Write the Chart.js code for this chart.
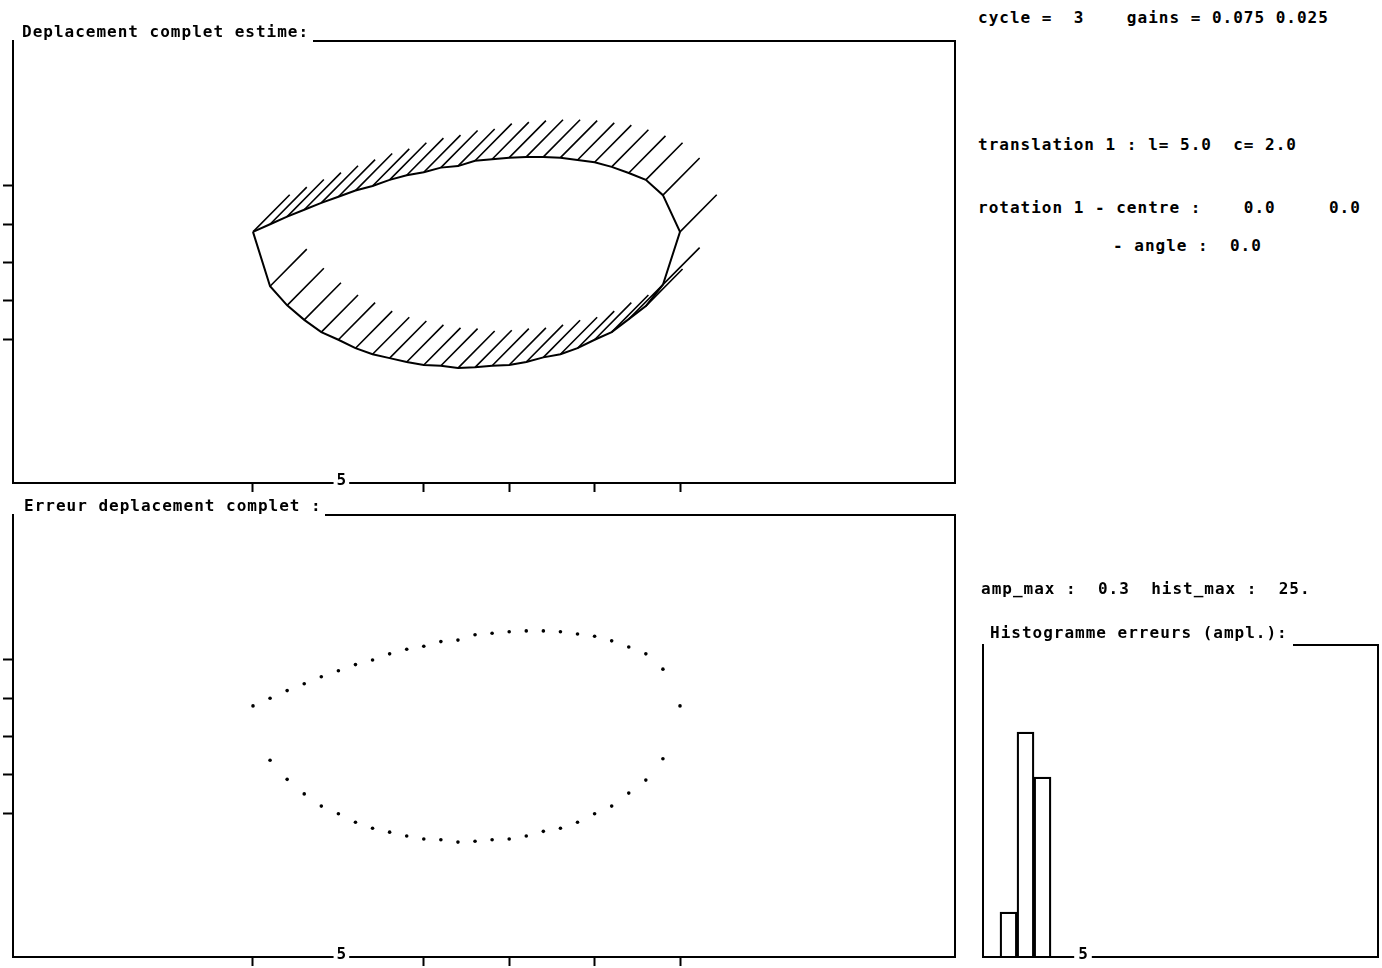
<!DOCTYPE html>
<html><head><meta charset="utf-8">
<script src="https://cdn.jsdelivr.net/npm/chart.js@4"></script>
<style>
html,body{margin:0;padding:0;background:#fff}
body{width:1382px;height:968px;position:relative;overflow:hidden}
canvas{position:absolute}
.t{position:absolute;font-family:"DejaVu Sans Mono",monospace;font-weight:bold;font-size:16px;line-height:16px;letter-spacing:1.0px;white-space:pre;color:#000}
</style></head><body>
<canvas id="c1" width="965" height="500" style="left:0;top:0"></canvas>
<canvas id="c2" width="965" height="494" style="left:0;top:474px"></canvas>
<canvas id="c3" width="422" height="368" style="left:960px;top:600px"></canvas>
<div class="t" style="left:22px;top:24px">Deplacement complet estime:</div>
<div class="t" style="left:24px;top:498px">Erreur deplacement complet :</div>
<div class="t" style="left:978px;top:10px">cycle =  3    gains = 0.075 0.025</div>
<div class="t" style="left:978px;top:137px">translation 1 : l= 5.0  c= 2.0</div>
<div class="t" style="left:978px;top:200px">rotation 1 - centre :    0.0     0.0</div>
<div class="t" style="left:1113px;top:238px">- angle :  0.0</div>
<div class="t" style="left:981px;top:581px">amp_max :  0.3  hist_max :  25.</div>
<div class="t" style="left:990px;top:625px">Histogramme erreurs (ampl.):</div>
<script>
// ---- data ----
const contourUpperX = [0,1,2,3,4,5,6,7,8,9,10,11,12,13,14,15,16,17,18,19,20,21,22,23,24,25];
const contourUpperY = [14.0,15.0,16.0,16.9,17.8,18.6,19.4,20.0,20.8,21.4,21.8,22.4,22.6,23.3,23.5,23.7,23.8,23.8,23.7,23.4,23.1,22.5,21.7,20.8,18.8,14.0];
const contourLowerX = [1,2,3,4,5,6,7,8,9,10,11,12,13,14,15,16,17,18,19,20,21,22,23,24];
const contourLowerY = [6.9,4.4,2.5,0.9,-0.1,-1.2,-2.0,-2.5,-3.0,-3.4,-3.5,-3.8,-3.7,-3.5,-3.4,-3.0,-2.4,-2.0,-1.2,-0.1,0.9,2.6,4.3,7.1];
const estShiftC = 2.15;   // estimated displacement, columns
const estShiftL = 4.85;   // estimated displacement, lines
const xTickValues = [0,5,10,15,20,25];
const yTickValues = [0,5,10,15,20];
const xLabelValues = [5];
const histBinCenters = [1.275, 2.125, 2.975];
const histCounts = [5, 25, 20];
const histTickValues = [5];

// ---- build ----
const contour = [];
contourUpperX.forEach((x,i)=>contour.push({x:x, y:contourUpperY[i]}));
for (let i = contourLowerX.length-1; i >= 0; i--) contour.push({x:contourLowerX[i], y:contourLowerY[i]});
const closedContour = contour.concat([contour[0]]);
const hatch = [];
contour.forEach(p=>{ hatch.push({x:p.x,y:p.y}); hatch.push({x:p.x+estShiftC,y:p.y+estShiftL}); hatch.push({x:p.x+estShiftC,y:null}); });

const FONT = {family:'DejaVu Sans Mono', weight:'bold', size:16, lineHeight:'4px'};

function frame(startX){
  return {id:'frame', afterDraw(chart){
    const {ctx, chartArea:a} = chart;
    ctx.save(); ctx.strokeStyle='#000'; ctx.lineWidth=2;
    ctx.beginPath(); ctx.moveTo(startX, a.top); ctx.lineTo(a.right, a.top); ctx.lineTo(a.right, a.bottom); ctx.stroke();
    ctx.restore();
  }};
}

function mainScales(){
  return {
    x:{type:'linear', position:'bottom', min:-14.05, max:41.1, offset:false,
      afterBuildTicks:s=>{ s.ticks = xTickValues.map(v=>({value:v})); },
      grid:{drawOnChartArea:false, drawTicks:true, tickLength:9, tickWidth:2,
        tickColor:c=>(c.tick && xLabelValues.includes(c.tick.value)) ? 'rgba(0,0,0,0)' : '#000'},
      border:{display:true, color:'#000', width:2},
      ticks:{autoSkip:false, maxRotation:0, minRotation:0, mirror:true, padding:0, labelOffset:3, color:'#000', font:FONT,
        callback:v=>xLabelValues.includes(v) ? String(v) : '',
        showLabelBackdrop:c=>!!(c.tick && xLabelValues.includes(c.tick.value)),
        backdropColor:c=>(c.tick && xLabelValues.includes(c.tick.value)) ? '#fff' : 'rgba(0,0,0,0)',
        backdropPadding:{top:2,bottom:2,left:3,right:3}}},
    y:{type:'linear', position:'left', min:-18.82, max:38.95,
      afterBuildTicks:s=>{ s.ticks = yTickValues.map(v=>({value:v})); },
      grid:{drawOnChartArea:false, drawTicks:true, tickLength:10, tickWidth:2, tickColor:'#000'},
      border:{display:true, color:'#000', width:2},
      ticks:{display:false}}
  };
}

const common = {responsive:false, animation:false, devicePixelRatio:1,
  plugins:{legend:{display:false}, tooltip:{enabled:false}}};

new Chart(document.getElementById('c1'), {
  type:'scatter',
  data:{datasets:[
    {data:closedContour, showLine:true, borderColor:'#000', borderWidth:2, pointRadius:0, tension:0, fill:false},
    {data:hatch, showLine:true, spanGaps:false, borderColor:'#000', borderWidth:1.6, pointRadius:0, tension:0, fill:false}
  ]},
  options:Object.assign({}, common, {layout:{padding:{left:3, top:41, right:10, bottom:8}}, scales:mainScales()}),
  plugins:[frame(313)]
});

new Chart(document.getElementById('c2'), {
  type:'scatter',
  data:{datasets:[
    {data:contour, showLine:false, pointRadius:1.8, pointBackgroundColor:'#000', pointBorderWidth:0, pointBorderColor:'#000'}
  ]},
  options:Object.assign({}, common, {layout:{padding:{left:3, top:41, right:10, bottom:2}}, scales:mainScales()}),
  plugins:[frame(325)]
});

new Chart(document.getElementById('c3'), {
  type:'bar',
  data:{datasets:[
    {data:histBinCenters.map((x,i)=>({x:x, y:histCounts[i]})), backgroundColor:'rgba(255,255,255,0)', borderColor:'#000',
     borderWidth:1.6, borderSkipped:'start', barPercentage:1, categoryPercentage:1}
  ]},
  options:Object.assign({}, common, {layout:{padding:{left:23, top:45, right:4, bottom:11}},
    scales:{
      x:{type:'linear', position:'bottom', min:0, max:19.75, offset:false,
        afterBuildTicks:s=>{ s.ticks = histTickValues.map(v=>({value:v})); },
        grid:{drawOnChartArea:false, drawTicks:false, offset:false},
        border:{display:true, color:'#000', width:2},
        ticks:{autoSkip:false, maxRotation:0, minRotation:0, mirror:true, padding:0, color:'#000', font:FONT,
          callback:v=>String(v), showLabelBackdrop:true, backdropColor:'#fff',
          backdropPadding:{top:2,bottom:2,left:4,right:4}}},
      y:{type:'linear', position:'left', min:0, max:34.67,
        afterBuildTicks:s=>{ s.ticks = []; },
        grid:{drawOnChartArea:false, drawTicks:false},
        border:{display:true, color:'#000', width:2},
        ticks:{display:false}}
    }}),
  plugins:[frame(333)]
});
</script>
</body></html>
